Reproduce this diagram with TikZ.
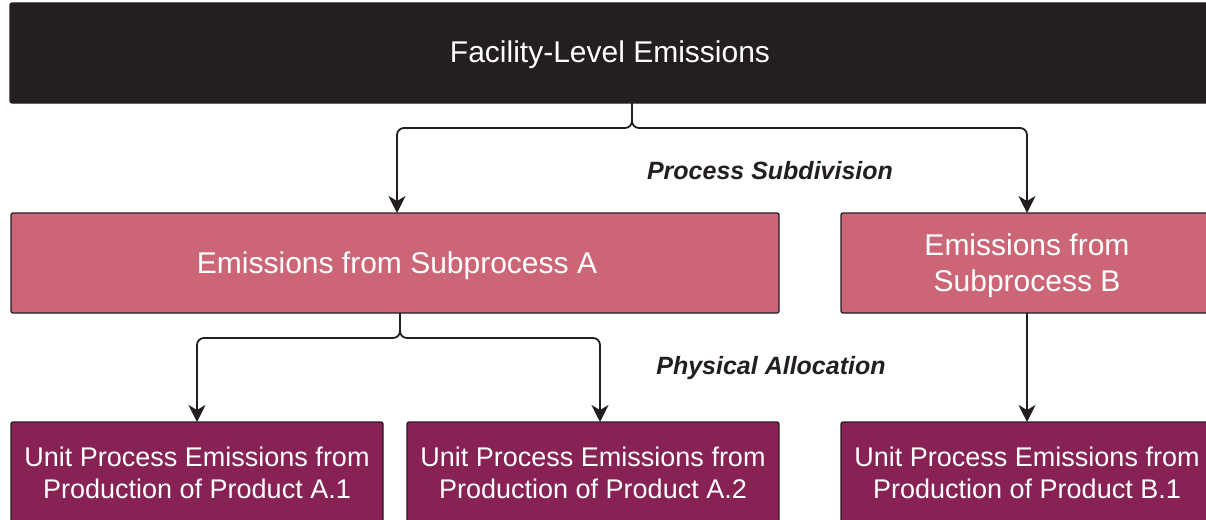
\documentclass[tikz,border=0pt]{standalone}
\usepackage{fontspec}
\setmainfont{Liberation Sans}
\usetikzlibrary{arrows.meta,calc}
\definecolor{topc}{HTML}{231F20}
\definecolor{pinkc}{HTML}{CC6677}
\definecolor{purpc}{HTML}{882255}
\definecolor{edgec}{HTML}{231F20}
\tikzset{
  box/.style={draw=edgec, line width=1.3pt, rounded corners=2pt, inner sep=0pt, outer sep=0pt},
  topbox/.style={box, fill=topc, minimum width=1200pt, minimum height=100pt},
  subbox/.style={box, fill=pinkc, minimum height=100pt},
  unitbox/.style={box, fill=purpc, minimum width=372pt, minimum height=102pt},
  bigtxt/.style={text=white, align=center, inner sep=0pt, font=\fontsize{30}{36}\selectfont},
  unittxt/.style={text=white, align=center, inner sep=0pt, font=\fontsize{27}{32}\selectfont},
  conn/.style={draw=edgec, line width=1.8pt, rounded corners=7pt, arrows={-Stealth[length=17pt,width=17pt,inset=5pt]}},
  lab/.style={font=\fontsize{25}{29}\selectfont\bfseries\itshape, text=edgec, inner sep=0pt}
}
\begin{document}
\begin{tikzpicture}[x=1pt,y=-1pt]
\useasboundingbox (0,0) rectangle (1206,519);
\clip (0,0) rectangle (1206,519);
\fill[white] (0,0) rectangle (1206,519);
\node[topbox] (top) at (610,53) {};
\node[bigtxt] (topT) at ([yshift=-2pt]top.center) {Facility-Level Emissions};
\node[subbox, minimum width=768pt] (subA) at (395,263) {};
\node[bigtxt] (subAT) at ([xshift=2pt,yshift=-3pt]subA.center) {Emissions from Subprocess A};
\node[subbox, minimum width=372pt] (subB) at (1027,263) {};
\node[bigtxt] (subBT) at ([yshift=-3pt]subB.center) {Emissions from\\Subprocess B};
\node[unitbox] (a1) at (197,473) {};
\node[unittxt] (a1T) at (a1.center) {Unit Process Emissions from\\Production of Product A.1};
\node[unitbox] (a2) at (593,473) {};
\node[unittxt] (a2T) at (a2.center) {Unit Process Emissions from\\Production of Product A.2};
\node[unitbox] (b1) at (1027,473) {};
\node[unittxt] (b1T) at (b1.center) {Unit Process Emissions from\\Production of Product B.1};
\node[lab] (ps) at (770,171) {Process Subdivision};
\node[lab] (pa) at (771,368) {Physical Allocation};
\draw[conn] ([xshift=22pt]top.south) -- ++(0,25) -| ([xshift=2pt]subA.north);
\draw[conn] ([xshift=22pt]top.south) -- ++(0,25) -| (subB.north);
\draw[conn] ([xshift=5pt]subA.south) -- ++(0,25) -| (a1.north);
\draw[conn] ([xshift=5pt]subA.south) -- ++(0,25) -| ([xshift=7pt]a2.north);
\draw[conn] (subB.south) -- (b1.north);
\end{tikzpicture}
\end{document}
